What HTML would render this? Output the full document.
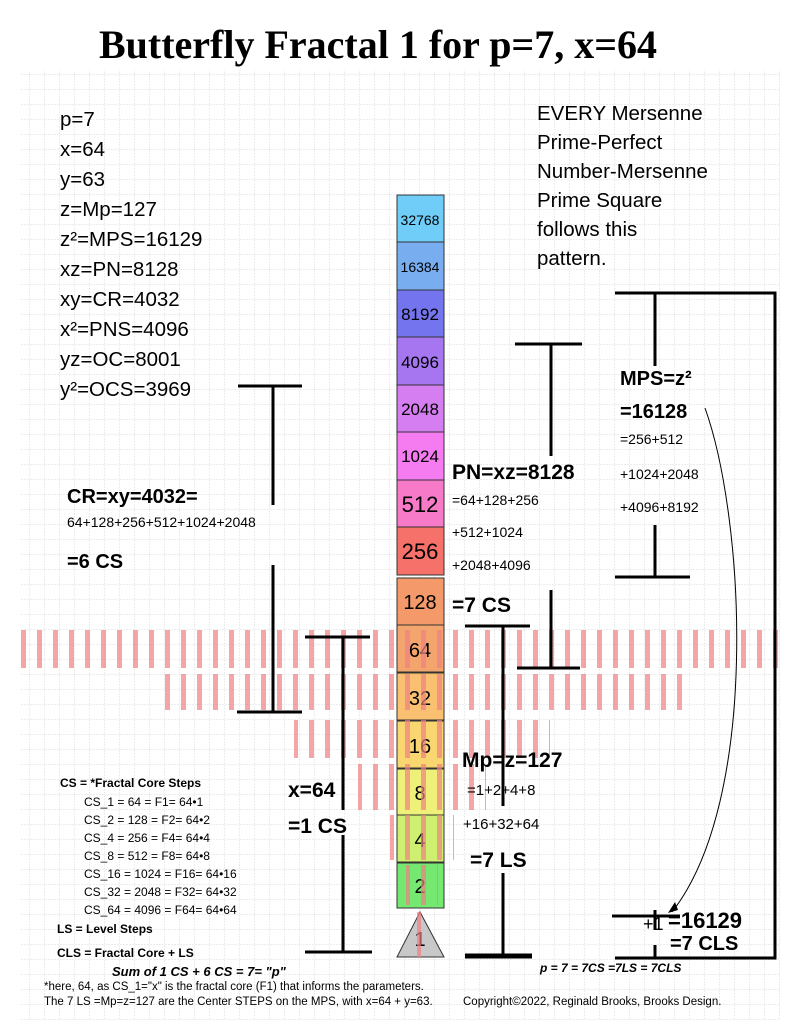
<!DOCTYPE html>
<html><head><meta charset="utf-8"><style>
html,body{margin:0;padding:0;background:#fff}
svg{display:block}
text{font-family:"Liberation Sans",sans-serif}
</style></head><body>
<svg width="791" height="1024" viewBox="0 0 791 1024" xmlns="http://www.w3.org/2000/svg">
<defs>
<pattern id="g" width="15" height="15" patternUnits="userSpaceOnUse">
<path d="M15 0V15M0 15H15" stroke="#d8d8d8" stroke-width="1" stroke-dasharray="2 1" fill="none"/>
</pattern>
<pattern id="d1" width="16" height="40" patternUnits="userSpaceOnUse">
<rect x="5" y="0" width="5" height="40" fill="#f08080" opacity="0.7"/>
</pattern>
</defs>
<rect width="791" height="1024" fill="#fff"/>
<rect x="20" y="70" width="760" height="950" fill="url(#g)"/>
<text x="378" y="58" text-anchor="middle" font-weight="bold" font-size="40" style="font-family:'Liberation Serif',serif">Butterfly Fractal 1 for p=7, x=64</text>

<g font-size="20.5">
<text x="60" y="126">p=7</text><text x="60" y="156">x=64</text><text x="60" y="186">y=63</text>
<text x="60" y="216">z=Mp=127</text><text x="60" y="246">z²=MPS=16129</text><text x="60" y="276">xz=PN=8128</text>
<text x="60" y="306">xy=CR=4032</text><text x="60" y="336">x²=PNS=4096</text><text x="60" y="366">yz=OC=8001</text>
<text x="60" y="396">y²=OCS=3969</text>
<text x="537" y="120">EVERY Mersenne</text><text x="537" y="149">Prime-Perfect</text>
<text x="537" y="178">Number-Mersenne</text><text x="537" y="207">Prime Square</text>
<text x="537" y="236">follows this</text><text x="537" y="265">pattern.</text>
</g>

<g stroke="#333" stroke-width="1">
<rect x="397" y="195" width="47" height="47" fill="#6fcdf8"/>
<rect x="397" y="242" width="47" height="48" fill="#78aef0"/>
<rect x="397" y="290" width="47" height="47" fill="#7474ee"/>
<rect x="397" y="337" width="47" height="48" fill="#a676f0"/>
<rect x="397" y="385" width="47" height="47" fill="#d57ef2"/>
<rect x="397" y="432" width="47" height="48" fill="#f47cf0"/>
<rect x="397" y="480" width="47" height="47" fill="#f67ac8"/>
<rect x="397" y="527" width="47" height="48" fill="#f5716a"/>
<rect x="397" y="578" width="47" height="47" fill="#f49a6a"/>
<rect x="397" y="625" width="47" height="47" fill="#f4a56e"/>
<rect x="397" y="673" width="47" height="47" fill="#f8c070"/>
<rect x="397" y="721" width="47" height="47" fill="#f9d670"/>
<rect x="397" y="769" width="47" height="46" fill="#eef07a"/>
<rect x="397" y="815" width="47" height="47" fill="#cdf070"/>
<rect x="397" y="863" width="47" height="45" fill="#74e870"/>
<polygon points="420,912 397,957 444,957" fill="#c8c8c8"/>
</g>
<g text-anchor="middle">
<text x="420" y="225" font-size="14">32768</text><text x="420" y="272" font-size="14">16384</text>
<text x="420" y="320" font-size="17">8192</text><text x="420" y="368" font-size="17">4096</text>
<text x="420" y="415" font-size="17">2048</text><text x="420" y="462" font-size="17">1024</text>
<text x="420" y="512" font-size="22">512</text><text x="420" y="559" font-size="22">256</text>
<text x="420" y="609" font-size="20">128</text><text x="420" y="657" font-size="20">64</text>
<text x="420" y="705" font-size="20">32</text><text x="420" y="753" font-size="20">16</text>
<text x="420" y="800" font-size="20">8</text><text x="420" y="847" font-size="20">4</text>
<text x="420" y="893" font-size="20">2</text><text x="420" y="946" font-size="20">1</text>
</g>

<rect x="10" y="630" width="770" height="38" fill="url(#d1)"/>
<rect x="160" y="674" width="522" height="36" fill="url(#d1)"/>
<rect x="294" y="720" width="256" height="38" fill="url(#d1)"/>
<rect x="358" y="764" width="128" height="46" fill="url(#d1)"/>
<rect x="390" y="815" width="64" height="45" fill="url(#d1)"/>
<rect x="406" y="865" width="32" height="40" fill="url(#d1)"/>
<rect x="417" y="912" width="4" height="45" fill="#f08080" opacity="0.7"/>

<g stroke="#000" stroke-width="3" fill="none">
<path d="M238 386H302M273 386V505M273 565V712M237 712H302"/>
<path d="M305 637H370M343 637V810M343 835V952M305 952H372"/>
<path d="M465 626H530M503 626V806M503 873V955M465 955H532"/>
<path d="M515 344H582M551 344V456M551 590V668M517 668H580"/>
<path d="M615 293H775V958H615M655 293V366M655 525V576M615 577H690"/>
<path d="M612 916H680M655 910V930M655 945V958"/>
<path d="M465 957H532"/>
</g>
<path d="M705 408C745 520 760 800 672 912" stroke="#000" stroke-width="1" fill="none"/>
<path d="M668 913l10-3-3-8z" fill="#000"/>

<g font-weight="bold">
<text x="67" y="503" font-size="20">CR=xy=4032=</text>
<text x="67" y="568" font-size="20">=6 CS</text>
<text x="452" y="479" font-size="21">PN=xz=8128</text>
<text x="452" y="612" font-size="21">=7 CS</text>
<text x="620" y="385" font-size="20">MPS=z²</text>
<text x="620" y="418" font-size="20">=16128</text>
<text x="462" y="767" font-size="21">Mp=z=127</text>
<text x="288" y="797" font-size="21">x=64</text>
<text x="288" y="833" font-size="21">=1 CS</text>
<text x="470" y="867" font-size="21">=7 LS</text>
<text x="668" y="928" font-size="22">=16129</text>
<text x="670" y="950" font-size="20">=7 CLS</text>
</g>
<g font-size="14">
<text x="67" y="527">64+128+256+512+1024+2048</text>
<text x="452" y="505">=64+128+256</text><text x="452" y="537">+512+1024</text><text x="452" y="570">+2048+4096</text>
<text x="620" y="444">=256+512</text><text x="620" y="479">+1024+2048</text><text x="620" y="512">+4096+8192</text>
<text x="467" y="795" font-size="15">=1+2+4+8</text><text x="463" y="829" font-size="15">+16+32+64</text>
<text x="643" y="930" font-size="18">+1</text>
</g>
<g font-size="12">
<text x="60" y="787" font-weight="bold">CS = *Fractal Core  Steps</text>
<text x="84" y="806">CS_1 =       64 = F1=   64•1</text>
<text x="84" y="824">CS_2 =     128 = F2=   64•2</text>
<text x="84" y="842">CS_4 =     256 = F4=   64•4</text>
<text x="84" y="860">CS_8 =     512 = F8=   64•8</text>
<text x="84" y="878">CS_16 = 1024 = F16= 64•16</text>
<text x="84" y="896">CS_32 = 2048 = F32= 64•32</text>
<text x="84" y="914">CS_64 = 4096 = F64= 64•64</text>
<text x="57" y="933" font-weight="bold">LS = Level Steps</text>
<text x="57" y="957" font-weight="bold">CLS = Fractal Core + LS</text>
<text x="112" y="976" font-weight="bold" font-style="italic" font-size="13">Sum of 1 CS + 6 CS = 7= "p"</text>
<text x="44" y="990" font-size="11.5">*here, 64, as CS_1="x"  is the fractal core (F1) that informs the parameters.</text>
<text x="44" y="1005" font-size="11.5">The 7 LS =Mp=z=127 are the Center STEPS on the MPS, with x=64 + y=63.</text>
<text x="463" y="1005" font-size="11.5">Copyright©2022, Reginald Brooks, Brooks Design.</text>
<text x="540" y="972" font-weight="bold" font-style="italic">p = 7 = 7CS =7LS = 7CLS</text>
</g>
</svg>
</body></html>
